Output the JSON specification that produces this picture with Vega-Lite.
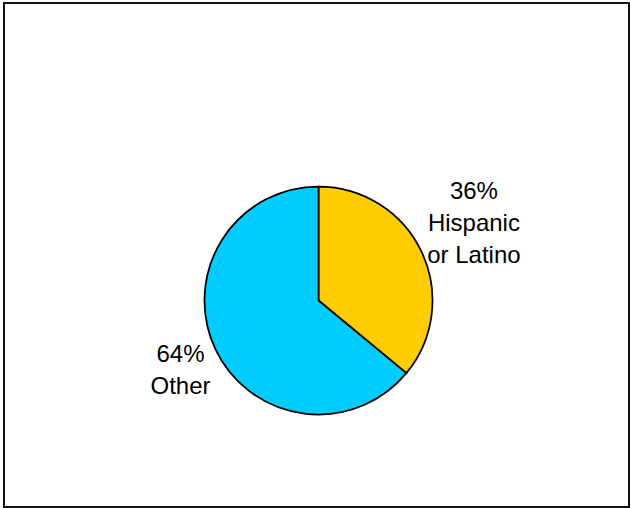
{
  "$schema": "https://vega.github.io/schema/vega-lite/v6.json",
  "autosize": {"type": "fit", "contains": "padding"},
  "width": 631,
  "height": 508,
  "padding": {"left": 4, "top": 3, "right": 2, "bottom": 1},
  "background": "white",
  "view": {"stroke": "#111111", "strokeWidth": 2},
  "config": {"view": {"stroke": "#111111", "strokeWidth": 2}},
  "data": {
    "values": [
      {"category": "Hispanic or Latino", "share": 36, "label": "36%\nHispanic\nor Latino"},
      {"category": "Other", "share": 64, "label": "64%\nOther"}
    ]
  },
  "encoding": {
    "theta": {"field": "share", "type": "quantitative", "stack": true},
    "color": {
      "field": "category",
      "type": "nominal",
      "scale": {"domain": ["Hispanic or Latino", "Other"], "range": ["#FFCC00", "#00CCFF"]},
      "legend": null
    }
  },
  "layer": [
    {
      "mark": {"type": "arc", "outerRadius": 114, "stroke": "#000000", "strokeWidth": 1.75, "xOffset": 2, "yOffset": 45.5}
    },
    {
      "mark": {"type": "text", "radius": 170, "lineBreak": "\n", "lineHeight": 32, "font": "Liberation Sans", "fontSize": 24, "align": "center", "baseline": "middle", "xOffset": 3.6, "yOffset": 9.4},
      "encoding": {
        "text": {"condition": {"test": "datum.category == 'Hispanic or Latino'", "field": "label"}, "value": ""},
        "color": {"value": "#000000"}
      }
    },
    {
      "mark": {"type": "text", "radius": 150, "lineBreak": "\n", "lineHeight": 32, "font": "Liberation Sans", "fontSize": 24, "align": "center", "baseline": "middle", "xOffset": -0.25, "yOffset": 35.8},
      "encoding": {
        "text": {"condition": {"test": "datum.category == 'Other'", "field": "label"}, "value": ""},
        "color": {"value": "#000000"}
      }
    }
  ]
}
